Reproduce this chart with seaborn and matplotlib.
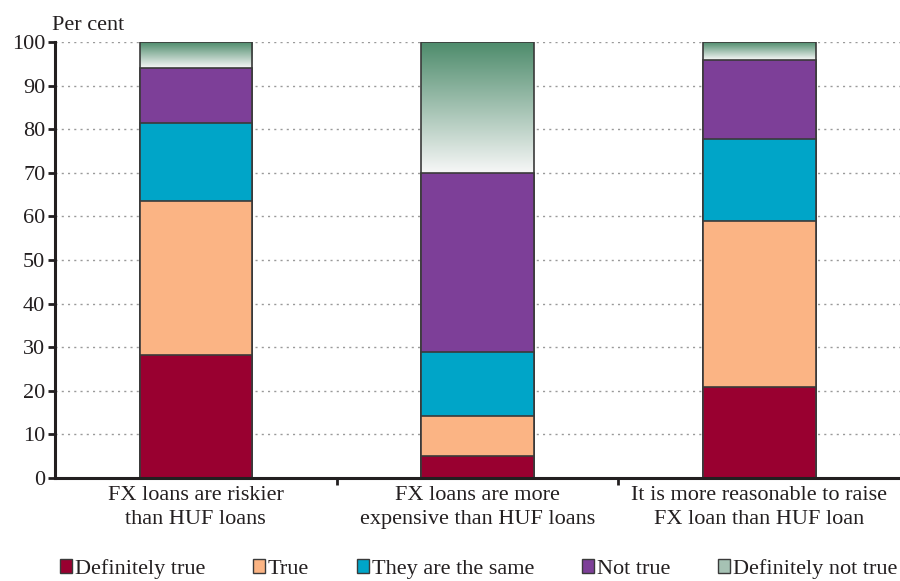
import numpy as np
import pandas as pd
import matplotlib.pyplot as plt
import matplotlib.colors as mcolors
from matplotlib.patches import Patch
import seaborn as sns

# Data (per cent of respondents)
questions = [
    "FX loans are riskier\nthan HUF loans",
    "FX loans are more\nexpensive than HUF loans",
    "It is more reasonable to raise\nFX loan than HUF loan",
]
answers = ["Definitely true", "True", "They are the same", "Not true", "Definitely not true"]
definitely_true = [28.2, 5.0, 20.9]
true_ = [35.3, 9.2, 38.0]
the_same = [17.9, 14.7, 18.9]
not_true = [12.7, 41.1, 18.1]
definitely_not_true = [5.9, 30.0, 4.1]

colors = ["#990030", "#fbb484", "#00a5c8", "#7d3f98", "#4e8c6c"]
edge = "#3a3a3a"
txt = "#231f20"
fs = 16

df = pd.DataFrame({
    "question": questions,
    answers[0]: definitely_true,
    answers[1]: true_,
    answers[2]: the_same,
    answers[3]: not_true,
    answers[4]: definitely_not_true,
})
# cumulative tops for stacking (drawn from the top segment down)
cum = df[answers].cumsum(axis=1)

sns.set_theme(style="white")
plt.rcParams["font.family"] = ["Liberation Serif", "DejaVu Serif"]
plt.rcParams["text.color"] = txt
plt.rcParams["xtick.color"] = txt
plt.rcParams["ytick.color"] = txt

fig = plt.figure(figsize=(9, 5.81), dpi=100)
ax = fig.add_axes([55 / 900, 103 / 581, 1 - 55 / 900, 436 / 581])

for i, ans in reversed(list(enumerate(answers))):
    n_before = len(ax.patches)
    sns.barplot(x=df["question"], y=cum[ans], color=colors[i], saturation=1,
                width=0.4, edgecolor=edge, linewidth=1.2, errorbar=None,
                zorder=3 + (4 - i), ax=ax)
    if i == 4:
        # gradient fill (green at top fading to white) for "Definitely not true"
        grad_cmap = mcolors.LinearSegmentedColormap.from_list("g", ["#f7f7f7", colors[4]])
        grad = np.linspace(0, 1, 256).reshape(-1, 1)
        for j, p in enumerate(ax.patches[n_before:]):
            base = cum[answers[3]].iloc[j]
            x0 = p.get_x()
            im = ax.imshow(grad, cmap=grad_cmap, origin="lower", aspect="auto",
                           extent=[x0, x0 + p.get_width(), base, p.get_height()],
                           zorder=2.5, interpolation="bilinear")
            im.set_clip_path(p)
            p.set_facecolor("none")

ax.set_xlim(-0.5, 2.5)
ax.set_ylim(0, 100)
ax.set_yticks(np.arange(0, 101, 10))
ax.set_xticks([0.5, 1.5], minor=True)
ax.tick_params(axis="x", which="major", bottom=False, length=0, labelsize=fs, pad=6)
ax.tick_params(axis="x", which="minor", bottom=True, length=5, width=2,
               direction="out", color=txt)
ax.tick_params(axis="y", left=True, length=5, width=2, direction="out",
               labelsize=fs, pad=2, color=txt)
for lab in ax.get_xticklabels():
    lab.set_linespacing(1.3)
ax.set_xlabel("")
ax.set_ylabel("")

ax.grid(axis="y", color="#9a9a9a", linestyle=(0, (1.5, 3)), linewidth=1, zorder=0)
ax.set_axisbelow(True)
for s in ["top", "right"]:
    ax.spines[s].set_visible(False)
for s in ["left", "bottom"]:
    ax.spines[s].set_color(txt)
    ax.spines[s].set_linewidth(2.2)
    ax.spines[s].set_zorder(10)

fig.text(52 / 900, 1 - 25 / 581, "Per cent", fontsize=fs, va="center", ha="left")

handles = [Patch(facecolor=c, edgecolor=edge, linewidth=1) for c in colors[:4]]
handles.append(Patch(facecolor="#a6c2b4", edgecolor=edge, linewidth=1))
fig.legend(handles, answers, loc="center left", bbox_to_anchor=(60 / 900, 1 - 569 / 581),
           ncol=5, frameon=False, fontsize=fs, handlelength=0.55, handleheight=0.55,
           handletextpad=0.12, columnspacing=2.15, borderaxespad=0, borderpad=0)

fig.savefig("out.png", dpi=100)
